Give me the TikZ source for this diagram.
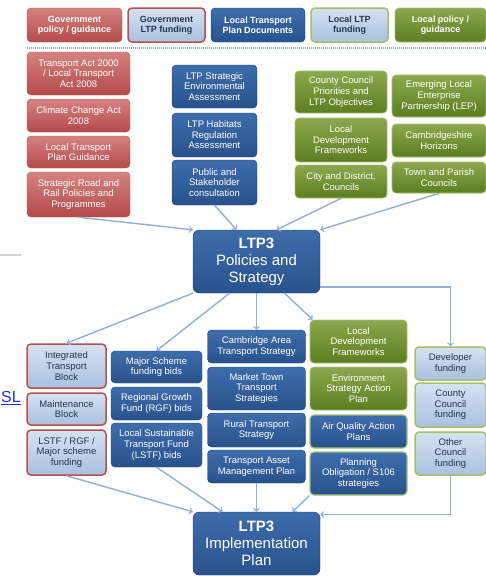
\documentclass[tikz,border=0pt]{standalone}
\usepackage{fontspec}
\setmainfont{Liberation Sans}
\usepackage{tikz}
\usepackage{xcolor}

\definecolor{redtop}{HTML}{D58282}
\definecolor{redbot}{HTML}{B44A4A}
\definecolor{redline}{HTML}{B85050}
\definecolor{bluetop}{HTML}{3E6DAC}
\definecolor{bluebot}{HTML}{28528C}
\definecolor{blueline}{HTML}{1E3F6E}
\definecolor{greentop}{HTML}{8DA84E}
\definecolor{greenbot}{HTML}{5C7D20}
\definecolor{greenline}{HTML}{A3C070}
\definecolor{palefill}{HTML}{D6E2F1}
\definecolor{palebot}{HTML}{A9C0DE}
\definecolor{paletext}{HTML}{24364F}
\definecolor{arrowblue}{HTML}{94ADD5}
\definecolor{linkblue}{HTML}{2233CC}

\begin{document}
\begin{tikzpicture}[x=1pt, y=-1pt,
    box/.style={rounded corners=4pt, align=center, inner sep=1pt,
      font=\fontsize{9.5}{10.6}\selectfont},
    redbox/.style={box, draw=redline, top color=redtop, bottom color=redbot, text=white},
    bluebox/.style={box, draw=blueline, top color=bluetop, bottom color=bluebot, text=white},
    greenbox/.style={box, draw=greenline, line width=0.8pt, top color=greentop, bottom color=greenbot, text=white},
    mixbox/.style={box, draw=greenline, line width=1.2pt, top color=bluetop, bottom color=bluebot, text=white},
    redfund/.style={box, draw=redline, line width=1.5pt, top color=palefill, bottom color=palebot, text=paletext},
    greenfund/.style={box, draw=greenline, line width=1.5pt, top color=palefill, bottom color=palebot, text=paletext},
    headbox/.style={font=\fontsize{9}{10}\selectfont\bfseries, minimum height=34},
    mainbox/.style={box, draw=blueline, top color=bluetop, bottom color=bluebot, text=white,
      rounded corners=6pt, font=\fontsize{15}{17}\selectfont, minimum width=127, minimum height=63},
    conn/.style={->, draw=arrowblue, line width=1.4pt}]
  \useasboundingbox (0,0) rectangle (486,576);

  % Key
  \node[redbox, headbox, minimum width=95] (hgovpol) at (74.5,25) {Government\\policy / guidance};
  \node[redfund, headbox, minimum width=77] (hgovfund) at (166.5,25) {Government\\LTP funding};
  \node[bluebox, headbox, minimum width=94] (hdocs) at (258,25) {Local Transport\\Plan Documents};
  \node[greenfund, headbox, minimum width=77] (hlocfund) at (349.5,25) {Local LTP\\funding};
  \node[greenbox, headbox, minimum width=91] (hlocpol) at (440.5,25) {Local policy /\\guidance};
  \draw[arrowblue, line width=1.5pt, dash pattern=on 1pt off 1pt] (27,48) -- (486,48);

  % Page leftovers
  \draw[gray!35, line width=1.5pt] (0,255) -- (21,255);
  \node[anchor=east, inner sep=0pt, text=linkblue, font=\fontsize{16}{18}\selectfont] (slink) at (21,398) {\underline{SL}};

  % Government policy
  \node[redbox, minimum width=103, minimum height=43] (law) at (78.5,73.5) {Transport Act 2000\\/ Local Transport\\Act 2008};
  \node[redbox, minimum width=103, minimum height=33] (climate) at (78.5,115.5) {Climate Change Act\\2008};
  \node[redbox, minimum width=103, minimum height=32] (guidance) at (78.5,152) {Local Transport\\Plan Guidance};
  \node[redbox, minimum width=103, minimum height=45] (roadrail) at (78.5,194.5) {Strategic Road and\\Rail Policies and\\Programmes};

  % Plan documents (top)
  \node[bluebox, minimum width=85, minimum height=43] (sea) at (214.5,86.5) {LTP Strategic\\Environmental\\Assessment};
  \node[bluebox, minimum width=85, minimum height=44] (hra) at (214.5,135) {LTP Habitats\\Regulation\\Assessment};
  \node[bluebox, minimum width=85, minimum height=45] (consult) at (214.5,182.5) {Public and\\Stakeholder\\consultation};

  % Local policy
  \node[greenbox, minimum width=92, minimum height=42] (priorities) at (341,92) {County Council\\Priorities and\\LTP Objectives};
  \node[greenbox, minimum width=92, minimum height=44] (ldftop) at (341,140) {Local\\Development\\Frameworks};
  \node[greenbox, minimum width=92, minimum height=33] (districts) at (341,181.5) {City and District,\\Councils};
  \node[greenbox, minimum width=94, minimum height=42] (lep) at (439,96) {Emerging Local\\Enterprise\\Partnership (LEP)};
  \node[greenbox, minimum width=94, minimum height=33] (horizons) at (439,140.5) {Cambridgeshire\\Horizons};
  \node[greenbox, minimum width=94, minimum height=31] (parish) at (439,177.5) {Town and Parish\\Councils};

  % Policies and Strategy
  \node[mainbox] (policies) at (256.5,261.5) {\textbf{LTP3}\\Policies and\\Strategy};

  % Government funding
  \node[redfund, minimum width=79, minimum height=44] (itblock) at (66.5,366) {Integrated\\Transport\\Block};
  \node[redfund, minimum width=79, minimum height=32] (maint) at (66.5,409) {Maintenance\\Block};
  \node[redfund, minimum width=79, minimum height=45] (lstffund) at (66.5,452.5) {LSTF / RGF /\\Major scheme\\funding};

  % Bids
  \node[bluebox, minimum width=91, minimum height=32] (majorbids) at (156.5,367) {Major Scheme\\funding bids};
  \node[bluebox, minimum width=91, minimum height=33] (rgfbids) at (156.5,403.5) {Regional Growth\\Fund (RGF) bids};
  \node[bluebox, minimum width=91, minimum height=44] (lstfbids) at (156.5,445) {Local Sustainable\\Transport Fund\\(LSTF) bids};

  % Strategies
  \node[bluebox, minimum width=98, minimum height=33] (cats) at (256.5,346.5) {Cambridge Area\\Transport Strategy};
  \node[bluebox, minimum width=98, minimum height=43] (market) at (256.5,388.5) {Market Town\\Transport\\Strategies};
  \node[bluebox, minimum width=98, minimum height=34] (rural) at (256.5,430) {Rural Transport\\Strategy};
  \node[bluebox, minimum width=98, minimum height=33] (tamp) at (256.5,466.5) {Transport Asset\\Management Plan};

  % Local plans
  \node[greenbox, minimum width=97, minimum height=43] (ldfmid) at (358.5,341.5) {Local\\Development\\Frameworks};
  \node[greenbox, minimum width=97, minimum height=43] (envplan) at (358.5,388.5) {Environment\\Strategy Action\\Plan};
  \node[mixbox, minimum width=97, minimum height=33] (airq) at (358.5,431.5) {Air Quality Action\\Plans};
  \node[mixbox, minimum width=97, minimum height=43] (s106) at (358.5,473.5) {Planning\\Obligation / S106\\strategies};

  % Local funding
  \node[greenfund, minimum width=71, minimum height=33] (devfund) at (450.5,363.5) {Developer\\funding};
  \node[greenfund, minimum width=71, minimum height=44] (ccfund) at (450.5,405) {County\\Council\\funding};
  \node[greenfund, minimum width=71, minimum height=43] (othfund) at (450.5,453.5) {Other\\Council\\funding};

  % Implementation Plan
  \node[mainbox] (impl) at (256.5,543.5) {\textbf{LTP3}\\Implementation\\Plan};

  % Into the strategy
  \draw[conn] (roadrail.south) -- (policies.north west);
  \draw[conn] (consult.south) -- ([xshift=-20pt]policies.north);
  \draw[conn] (districts.south) -- ([xshift=20pt]policies.north);
  \draw[conn] (parish.south) -- (policies.north east);

  % Out of the strategy
  \draw[conn] (policies.south west) -- (itblock.north);
  \draw[conn] ([xshift=-27pt]policies.south) -- (majorbids.north);
  \draw[conn] (policies.south) -- (cats.north);
  \draw[conn] ([xshift=28pt]policies.south) -- ([xshift=3pt]ldfmid.north west);
  \draw[conn] ([yshift=-25.5pt]policies.east) -| (devfund.north);

  % Into the plan
  \draw[conn] (lstffund.south) -- (impl.north west);
  \draw[conn] (lstfbids.south) -- ([xshift=-34pt]impl.north);
  \draw[conn] (tamp.south) -- (impl.north);
  \draw[conn] (s106.south west) -- ([xshift=36pt]impl.north);
  \draw[conn] (othfund.south) |- ([yshift=29pt]impl.east);
\end{tikzpicture}
\end{document}
